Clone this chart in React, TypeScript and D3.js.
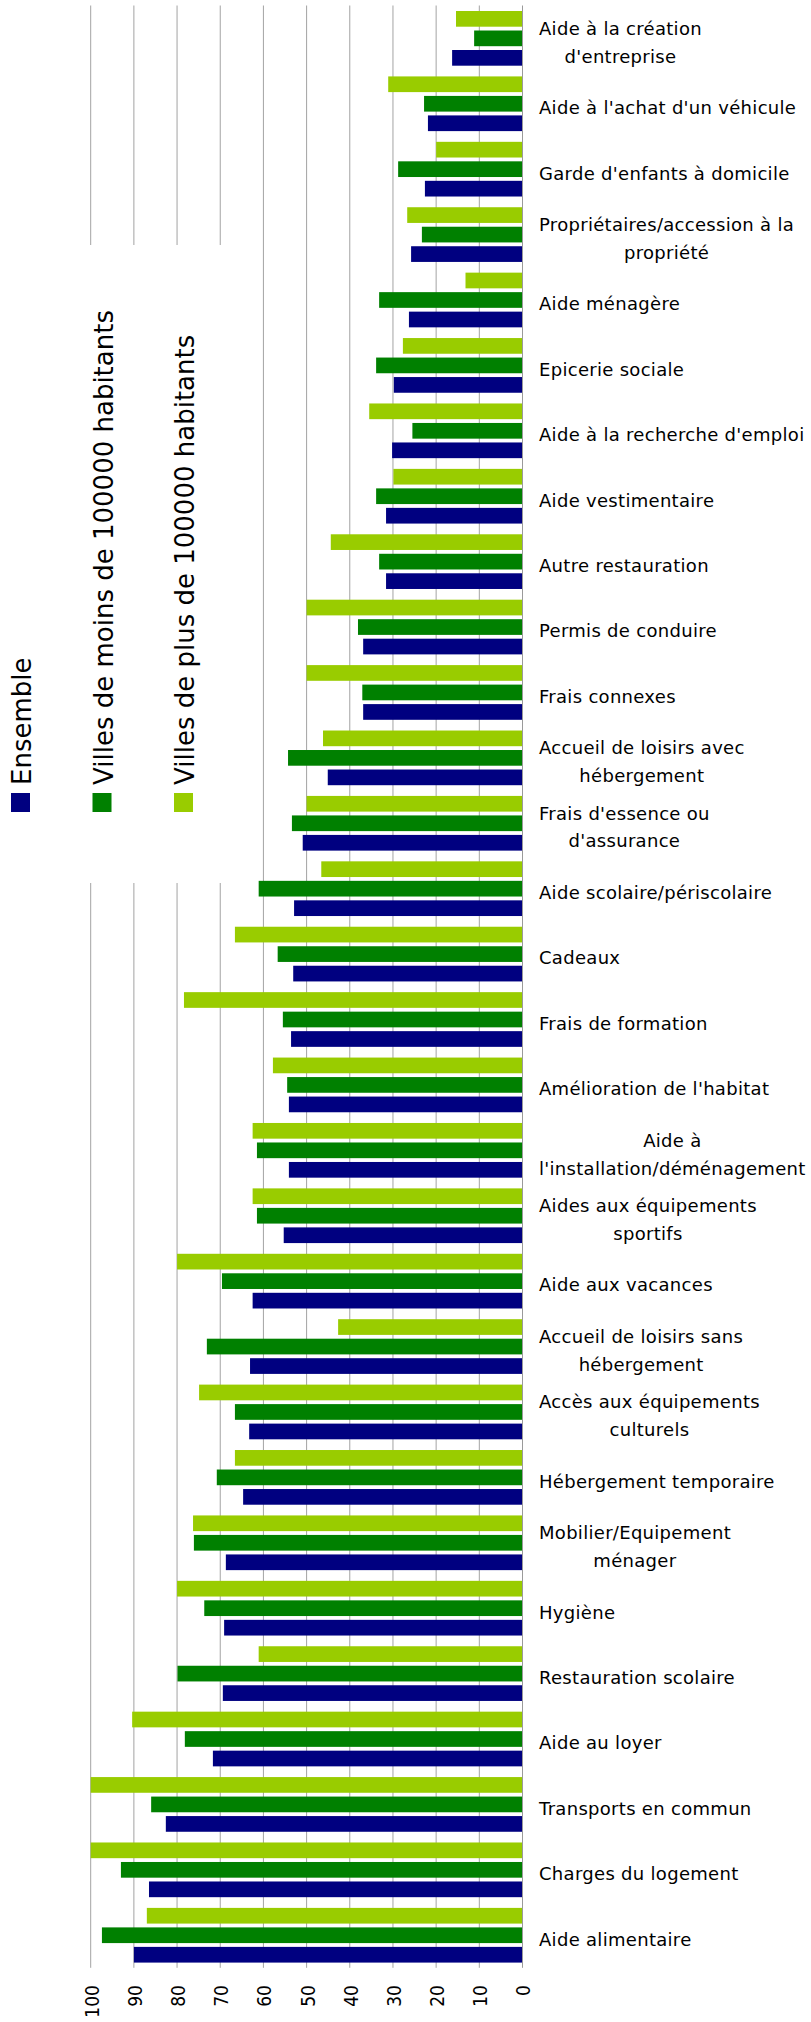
import React, { useEffect, useRef } from "react";
import * as d3 from "d3";

const categories = [
  "Aide à la création\nd'entreprise",
  "Aide à l'achat d'un véhicule",
  "Garde d'enfants à domicile",
  "Propriétaires/accession à la\npropriété",
  "Aide ménagère",
  "Epicerie sociale",
  "Aide à la recherche d'emploi",
  "Aide vestimentaire",
  "Autre restauration",
  "Permis de conduire",
  "Frais connexes",
  "Accueil de loisirs avec\nhébergement",
  "Frais d'essence ou\nd'assurance",
  "Aide scolaire/périscolaire",
  "Cadeaux",
  "Frais de formation",
  "Amélioration de l'habitat",
  "Aide à\nl'installation/déménagement",
  "Aides aux équipements\nsportifs",
  "Aide aux vacances",
  "Accueil de loisirs sans\nhébergement",
  "Accès aux équipements\nculturels",
  "Hébergement temporaire",
  "Mobilier/Equipement\nménager",
  "Hygiène",
  "Restauration scolaire",
  "Aide au loyer",
  "Transports en commun",
  "Charges du logement",
  "Aide alimentaire",
];

const seriesNames = [
  "Ensemble",
  "Villes de moins de 100000 habitants",
  "Villes de plus de 100000 habitants",
];
const seriesColors = ["#000080", "#008000", "#99CC00"];

const ensemble = [16.3, 21.9, 22.6, 25.8, 26.3, 29.8, 30.2, 31.6, 31.6, 36.9, 36.9, 45.1, 50.9, 52.9, 53.1, 53.6, 54.1, 54.1, 55.3, 62.5, 63.1, 63.3, 64.7, 68.7, 69.1, 69.4, 71.7, 82.6, 86.5, 90.0];
const moins = [11.2, 22.8, 28.8, 23.3, 33.2, 33.9, 25.5, 33.9, 33.2, 38.1, 37.1, 54.3, 53.4, 61.1, 56.7, 55.5, 54.5, 61.5, 61.5, 69.6, 73.1, 66.6, 70.8, 76.1, 73.7, 79.9, 78.2, 86.0, 93.0, 97.4];
const plus = [15.4, 31.1, 20.0, 26.7, 13.2, 27.7, 35.5, 29.9, 44.4, 50.0, 50.0, 46.2, 50.0, 46.6, 66.6, 78.4, 57.8, 62.5, 62.5, 80.0, 42.7, 74.9, 66.6, 76.3, 80.0, 61.1, 90.4, 100, 100, 87.0];

const tickValues = [0, 10, 20, 30, 40, 50, 60, 70, 80, 90, 100];

export default function App() {
  const ref = useRef<SVGSVGElement>(null);

  useEffect(() => {
    const svg = d3.select(ref.current as SVGSVGElement);
    svg.selectAll("*").remove();

    const top = 5.5;
    const bottom = 1967.8;
    const x = d3.scaleLinear().domain([0, 100]).range([522.5, 90.7]);
    const y = d3.scaleBand<string>().domain(categories).range([top, bottom]);
    const sub = d3
      .scaleBand<number>()
      .domain([2, 1, 0])
      .range([5.5, 60.2])
      .paddingInner(0.195);

    const series = [ensemble, moins, plus];

    // gridlines
    svg
      .append("g")
      .selectAll("line")
      .data(tickValues.filter((t) => t > 0))
      .join("line")
      .attr("x1", (d) => x(d))
      .attr("x2", (d) => x(d))
      .attr("y1", top)
      .attr("y2", bottom)
      .attr("stroke", "#a3a3a3")
      .attr("stroke-width", 1);

    // legend background box (hides gridlines)
    svg
      .append("rect")
      .attr("x", 0)
      .attr("y", 245)
      .attr("width", 240)
      .attr("height", 638)
      .attr("fill", "#fff");

    // bars
    const g = svg.append("g");
    categories.forEach((c, ci) => {
      series.forEach((s, si) => {
        g.append("rect")
          .attr("x", x(s[ci]))
          .attr("y", (y(c) as number) + (sub(si) as number))
          .attr("width", x(0) - x(s[ci]))
          .attr("height", sub.bandwidth())
          .attr("fill", seriesColors[si]);
      });
    });

    // axis line
    svg
      .append("line")
      .attr("x1", x(0))
      .attr("x2", x(0))
      .attr("y1", top)
      .attr("y2", bottom)
      .attr("stroke", "#9a9a9a")
      .attr("stroke-width", 1);

    // tick labels (rotated)
    svg
      .append("g")
      .selectAll("text")
      .data(tickValues)
      .join("text")
      .attr("transform", (d) => `translate(${x(d)},1985) rotate(-90)`)
      .attr("text-anchor", "end")
      .attr("dy", "0.42em")
      .attr("font-family", "'DejaVu Sans Condensed', 'DejaVu Sans', sans-serif")
      .attr("font-stretch", "condensed")
      .attr("font-size", 19)
      .attr("fill", "#000")
      .text((d) => String(d));

    // category labels
    const labelX = 539;
    const lineH = 27.7;
    const lg = svg.append("g");
    categories.forEach((c) => {
      const lines = c.split("\n");
      const cy = (y(c) as number) + y.bandwidth() / 2;
      const base = cy + 10.5 - ((lines.length - 1) * lineH) / 2;
      const nodes = lines.map((ln, i) =>
        lg
          .append("text")
          .attr("x", labelX)
          .attr("y", base + i * lineH)
          .attr("font-family", "'DejaVu Sans', sans-serif")
          .attr("font-size", 18)
          .attr("letter-spacing", "0.3px")
          .attr("fill", "#000")
          .text(ln)
      );
      const widths = nodes.map((n) => (n.node() as SVGTextElement).getBBox().width);
      const bw = Math.max(...widths);
      nodes.forEach((n, i) => n.attr("x", labelX + (bw - widths[i]) / 2));
    });

    // legend
    const legX = d3.scaleLinear().domain([0, 2]).range([11, 174]);
    seriesNames.forEach((name, i) => {
      svg
        .append("rect")
        .attr("x", legX(i))
        .attr("y", 793)
        .attr("width", 19)
        .attr("height", 19)
        .attr("fill", seriesColors[i]);
      svg
        .append("text")
        .attr("transform", `translate(${legX(i) + 20},785) rotate(-90)`)
        .attr("text-anchor", "start")
        .attr("font-family", "'DejaVu Sans', sans-serif")
        .attr("font-size", 26)
        .attr("fill", "#000")
        .text(name);
    });
  }, []);

  return (
    <div style={{ position: "absolute", left: 0, top: 0 }}>
      <svg
        ref={ref}
        width={811}
        height={2022}
        style={{ display: "block", background: "#fff" }}
      />
    </div>
  );
}
